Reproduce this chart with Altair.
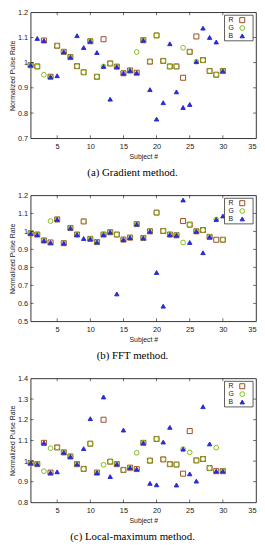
import altair as alt
import pandas as pd

subjects = list(range(1, 31))

# (a) Gradient method
R_a = [0.990, 0.985, 1.088, 0.944, 1.067, 1.043, 1.022, 0.986, 0.962, 1.085, 0.944, 1.093, 0.997, 0.984, 0.958,
       0.969, 0.960, 1.089, 1.004, 1.108, 1.007, 0.985, 0.985, 0.940, 1.043, 1.104, 1.010, 0.967, 0.952, 0.967]
G_a = [0.990, 0.985, 0.952, 0.944, 1.067, 1.043, 1.022, 0.986, 0.962, 1.085, 0.944, 0.985, 0.997, 0.984, 0.958,
       0.969, 1.042, 1.089, 1.004, 1.108, 1.007, 0.985, 0.985, 1.059, 1.043, 1.004, 1.010, 0.967, 0.952, 0.967]
B_a = [0.990, 1.096, 1.088, 0.944, 0.948, 1.043, 1.022, 1.107, 1.060, 1.085, 1.040, 0.985, 0.855, 0.984, 0.958,
       0.969, 0.960, 1.089, 0.893, 0.776, 0.841, 1.075, 0.884, 0.822, 0.834, 1.004, 1.137, 1.100, 1.082, 0.967]

# (b) FFT method
R_b = [0.989, 0.982, 0.949, 0.938, 1.066, 0.934, 1.018, 0.982, 1.055, 0.958, 0.940, 0.982, 0.995, 0.982, 0.954,
       0.965, 1.040, 0.963, 1.000, 1.104, 1.002, 0.982, 0.978, 1.057, 1.037, 1.000, 1.007, 0.969, 0.953, 0.953]
G_b = [0.989, 0.982, 0.949, 1.057, 1.066, 0.934, 1.018, 0.982, 1.055, 0.958, 0.940, 0.982, 0.995, 0.982, 0.954,
       0.965, 1.040, 0.963, 1.000, 1.104, 1.002, 0.982, 0.978, 0.938, 1.037, 1.000, 1.007, 0.969, 1.066, 0.953]
B_b = [0.989, 0.982, 0.949, 0.938, 1.066, 0.934, 1.018, 0.982, 0.960, 0.958, 0.940, 0.982, 0.995, 0.652, 0.954,
       0.965, 1.040, 0.963, 1.000, 0.771, 0.584, 0.982, 0.978, 1.174, 0.938, 1.000, 0.881, 0.969, 1.066, 1.085]

# (c) Local-maximum method
R_c = [0.991, 0.985, 1.088, 0.944, 1.066, 1.042, 1.022, 0.985, 0.962, 1.084, 0.944, 1.200, 0.997, 0.985, 0.957,
       0.968, 0.961, 1.088, 1.002, 1.107, 1.008, 0.985, 0.983, 0.939, 1.145, 1.003, 1.010, 0.966, 0.951, 0.951]
G_c = [0.991, 0.985, 0.951, 1.062, 1.066, 1.042, 1.022, 0.985, 0.962, 1.084, 0.944, 0.982, 0.997, 0.985, 0.957,
       0.968, 1.040, 1.088, 1.002, 1.107, 1.008, 0.985, 0.983, 1.058, 1.042, 1.003, 1.010, 0.966, 1.065, 0.951]
B_c = [0.991, 0.985, 1.088, 0.944, 0.948, 1.042, 1.022, 0.985, 1.060, 1.205, 0.944, 1.310, 0.925, 0.985, 1.150,
       0.968, 0.961, 1.088, 0.892, 0.885, 1.092, 1.163, 0.884, 1.058, 0.938, 0.903, 1.263, 1.083, 0.951, 0.951]

channels = ["R", "G", "B"]
colors = ["#9e4a1e", "#84bc1e", "#2b2bcf"]
fills = ["transparent", "transparent", "#2b2bcf"]
shapes = ["square", "circle", "triangle-up"]
sizes = [26, 20, 30]

x_ticks = [5, 10, 15, 20, 25, 30, 35]
y_ticks_a = [0.7, 0.8, 0.9, 1.0, 1.1, 1.2]
y_ticks_b = [0.5, 0.6, 0.7, 0.8, 0.9, 1.0, 1.1, 1.2]
y_ticks_c = [0.8, 0.9, 1.0, 1.1, 1.2, 1.3, 1.4]

W = 229


def panel(R, G, B, yticks, h, caption):
    rows = []
    for ch, vals in zip(channels, [R, G, B]):
        for s, v in zip(subjects, vals):
            rows.append({"Subject": s, "Value": v, "Channel": ch})
    df = pd.DataFrame(rows)

    xsc = alt.Scale(domain=[1, 35], nice=False, zero=False)
    ysc = alt.Scale(domain=[yticks[0], yticks[-1]], nice=False, zero=False)
    xax = alt.Axis(values=x_ticks, title="Subject #", grid=False, tickSize=0, domain=False,
                   labelPadding=4, titlePadding=3)
    yax = alt.Axis(values=yticks, title="Normalized Pulse Rate", grid=False, tickSize=0, domain=False,
                   labelPadding=3, titlePadding=2, format=".1~f")

    col = alt.Color("Channel:N", scale=alt.Scale(domain=channels, range=colors), legend=None)
    shp = alt.Shape("Channel:N", scale=alt.Scale(domain=channels, range=shapes), legend=None)
    fil = alt.Fill("Channel:N", scale=alt.Scale(domain=channels, range=fills), legend=None)
    siz = alt.Size("Channel:N", scale=alt.Scale(domain=channels, range=sizes), legend=None)

    pts = alt.Chart(df).mark_point(strokeWidth=1, opacity=1).encode(
        x=alt.X("Subject:Q", scale=xsc, axis=xax),
        y=alt.Y("Value:Q", scale=ysc, axis=yax),
        color=col, shape=shp, fill=fil, size=siz,
    )

    xt = pd.DataFrame({"Subject": x_ticks[:-1]})
    yt = pd.DataFrame({"Value": yticks[1:-1]})
    tick = dict(color="black", thickness=0.8, size=3)
    bottom = alt.Chart(xt).mark_tick(orient="vertical", **tick).encode(
        x=alt.X("Subject:Q", scale=xsc, axis=xax), y=alt.value(h - 1.5))
    top = alt.Chart(xt).mark_tick(orient="vertical", **tick).encode(
        x=alt.X("Subject:Q", scale=xsc, axis=xax), y=alt.value(1.5))
    left = alt.Chart(yt).mark_tick(orient="horizontal", **tick).encode(
        y=alt.Y("Value:Q", scale=ysc, axis=None), x=alt.value(1.5))
    right = alt.Chart(yt).mark_tick(orient="horizontal", **tick).encode(
        y=alt.Y("Value:Q", scale=ysc, axis=None), x=alt.value(W - 1.5))

    # legend box drawn inside the plot (symbol to the right of its label)
    ldf = pd.DataFrame({"Channel": channels})
    lys = alt.Y("Channel:N", scale=alt.Scale(type="point", domain=channels, range=[8, 24], padding=0),
                axis=None)
    box = alt.Chart(pd.DataFrame({"k": [0]})).mark_rect(
        fill="white", stroke="#333333", strokeWidth=0.8).encode(
        x=alt.value(W - 32), x2=alt.value(W - 3), y=alt.value(3), y2=alt.value(29))
    lsym = alt.Chart(ldf).mark_point(strokeWidth=1, opacity=1).encode(
        x=alt.value(W - 14), y=lys, color=col, shape=shp, fill=fil, size=siz)
    ltxt = alt.Chart(ldf).mark_text(align="left", baseline="middle", font="Liberation Sans",
                                    fontSize=7, color="#222222").encode(
        x=alt.value(W - 28), y=lys, text="Channel:N")

    return alt.layer(pts, bottom, top, left, right, box, lsym, ltxt).resolve_scale(
        y="independent"
    ).properties(
        width=W, height=h,
        title=alt.TitleParams(text=caption, orient="bottom", anchor="middle", frame="bounds",
                              font="Liberation Serif", fontSize=11, fontWeight="normal",
                              offset=8, color="black"),
    )


pa = panel(R_a, G_a, B_a, y_ticks_a, 128, "(a) Gradient method.")
pb = panel(R_b, G_b, B_b, y_ticks_b, 128, "(b) FFT method.")
pc = panel(R_c, G_c, B_c, y_ticks_c, 126, "(c) Local-maximum method.")

chart = alt.vconcat(pa, pb, pc, spacing=12).properties(
    padding={"left": 0, "top": -5, "right": 0, "bottom": 0}
).configure_view(
    stroke="black", strokeWidth=0.8
).configure_axis(
    labelFont="Liberation Sans", labelFontSize=7.5, labelColor="#222222",
    titleFont="Liberation Sans", titleFontSize=7, titleFontWeight="normal", titleColor="#222222"
)

chart.save("out.html", embed_options={"renderer": "svg", "actions": False})
